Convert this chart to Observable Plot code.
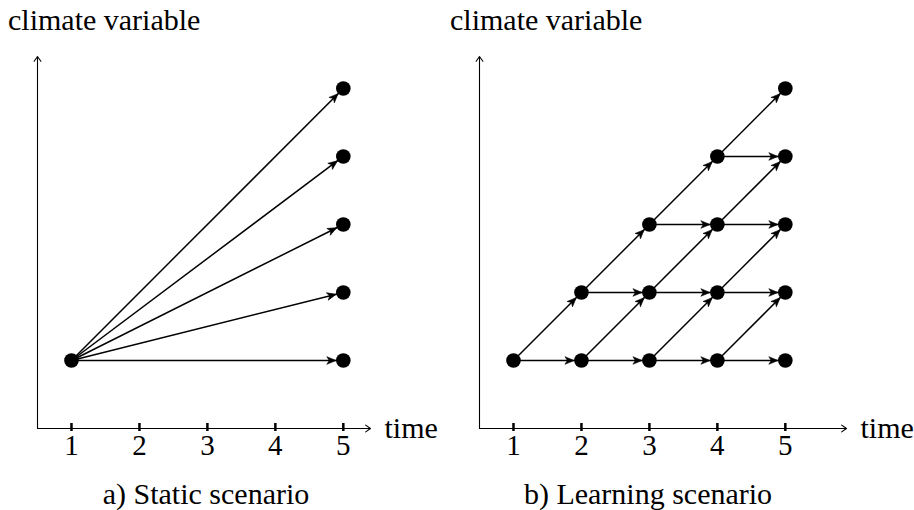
<!DOCTYPE html>
<html><head><meta charset="utf-8">
<script src="https://cdn.jsdelivr.net/npm/d3@7"></script>
<script src="https://cdn.jsdelivr.net/npm/@observablehq/plot@0.6"></script>
</head>
<body style="margin:0;padding:0;background:#fff">
<div id="wrap" style="position:relative;width:914px;height:510px;overflow:hidden;color:#000;background:#fff">
 <div id="ta" style="position:absolute;left:8px;top:5px;font-family:'Liberation Serif';font-size:30px;line-height:1;white-space:nowrap"></div>
 <div id="tb" style="position:absolute;left:450px;top:5px;font-family:'Liberation Serif';font-size:30px;line-height:1;white-space:nowrap"></div>
 <div id="pa" style="position:absolute;top:40px;left:0"></div>
 <div id="pb" style="position:absolute;top:40px;left:457px"></div>
 <div id="ca" style="position:absolute;left:56px;top:479px;width:300px;text-align:center;font-family:'Liberation Serif';font-size:30px;line-height:1;white-space:nowrap"></div>
 <div id="cb" style="position:absolute;left:498px;top:479px;width:300px;text-align:center;font-family:'Liberation Serif';font-size:30px;line-height:1;white-space:nowrap"></div>
</div>
<script>
// ---- data ----
const yTitle = "climate variable";
const xTitle = "time";
const captions = ["a) Static scenario", "b) Learning scenario"];
const timeTicks = [1, 2, 3, 4, 5];

const staticNodeTime  = [1, 5, 5, 5, 5, 5];
const staticNodeLevel = [1, 1, 2, 3, 4, 5];
const staticEdgeFromTime  = [1, 1, 1, 1, 1];
const staticEdgeFromLevel = [1, 1, 1, 1, 1];
const staticEdgeToTime    = [5, 5, 5, 5, 5];
const staticEdgeToLevel   = [1, 2, 3, 4, 5];

const learningNodeTime  = [1, 2, 2, 3, 3, 3, 4, 4, 4, 4, 5, 5, 5, 5, 5];
const learningNodeLevel = [1, 1, 2, 1, 2, 3, 1, 2, 3, 4, 1, 2, 3, 4, 5];
const learningEdgeFromTime  = [1, 1, 2, 2, 2, 2, 3, 3, 3, 3, 3, 3, 4, 4, 4, 4, 4, 4, 4, 4];
const learningEdgeFromLevel = [1, 1, 1, 1, 2, 2, 1, 1, 2, 2, 3, 3, 1, 1, 2, 2, 3, 3, 4, 4];
const learningEdgeToTime    = [2, 2, 3, 3, 3, 3, 4, 4, 4, 4, 4, 4, 5, 5, 5, 5, 5, 5, 5, 5];
const learningEdgeToLevel   = [1, 2, 1, 2, 2, 3, 1, 2, 2, 3, 3, 4, 1, 2, 2, 3, 3, 4, 4, 5];

const staticXDomain = [0.5, 5.4];
const learningXDomain = [0.5, 5.9];
const yDomain = [0, 5.47];

// ---- build ----
const FONT = "Liberation Serif";
const nodes = (a, b) => a.map((v, i) => ({t: v, k: b[i]}));
const edges = (ft, fk, tt, tk) => ft.map((v, i) => ({t1: v, k1: fk[i], t2: tt[i], k2: tk[i]}));

// filled "stealth" arrow head, tip set back so it touches the target dot
function stealth(color, context) {
  const doc = (context && context.document) || document;
  const ns = "http://www.w3.org/2000/svg";
  const m = doc.createElementNS(ns, "marker");
  m.setAttribute("viewBox", "-20 -6 20 12");
  m.setAttribute("markerWidth", 20);
  m.setAttribute("markerHeight", 12);
  m.setAttribute("markerUnits", "userSpaceOnUse");
  m.setAttribute("orient", "auto");
  m.setAttribute("refX", 0);
  m.setAttribute("refY", 0);
  const p = doc.createElementNS(ns, "path");
  p.setAttribute("d", "M-7.3,0L-16.5,-3.8L-14,0L-16.5,3.8Z");
  p.setAttribute("fill", color);
  p.setAttribute("stroke", color);
  p.setAttribute("stroke-width", 0.6);
  p.setAttribute("stroke-linejoin", "round");
  m.appendChild(p);
  return m;
}

function panel(nodeData, linkData, xDomain, marginLeft, marginRight, custom) {
  const axes = [
    {t1: xDomain[0], k1: yDomain[0], t2: xDomain[0], k2: yDomain[1]},
    {t1: xDomain[0], k1: yDomain[0], t2: xDomain[1], k2: yDomain[0]}
  ];
  const linkMark = custom
    ? Plot.link(linkData, {x1: "t1", y1: "k1", x2: "t2", y2: "k2", stroke: "black", strokeWidth: 1.5, markerEnd: stealth})
    : Plot.arrow(linkData, {x1: "t1", y1: "k1", x2: "t2", y2: "k2", stroke: "black", strokeWidth: 1.5, headLength: 9, headAngle: 40, insetEnd: 7.5});
  const svg = Plot.plot({
    width: 457, height: 430, marginTop: 16, marginBottom: 42, marginLeft, marginRight,
    x: {domain: xDomain, axis: null},
    y: {domain: yDomain, axis: null},
    style: {background: "transparent", overflow: "visible"},
    marks: [
      Plot.arrow(axes, {x1: "t1", y1: "k1", x2: "t2", y2: "k2", stroke: "black", strokeWidth: 1.1, headLength: 8, headAngle: 70}),
      Plot.axisX(timeTicks, {anchor: "bottom", tickSize: 8, dy: -5, fill: "none", label: null, stroke: "black", strokeWidth: 2.5}),
      Plot.axisX(timeTicks, {anchor: "bottom", tickSize: 0, tickPadding: 6, fontSize: 29, fontFamily: FONT, label: null, fill: "black"}),
      Plot.text([xTitle], {x: () => xDomain[1], y: () => yDomain[0], text: d => d, textAnchor: "start", dx: 14, fontSize: 30, fontFamily: FONT, lineAnchor: "middle", fill: "black"}),
      linkMark,
      Plot.dot(nodeData, {x: "t", y: "k", r: 7.3, fill: "black"})
    ]
  });
  svg.style.fontFamily = FONT;
  return svg;
}

function build(...args) {
  try { return panel(...args, true); } catch (e) { return panel(...args, false); }
}

document.getElementById("pa").appendChild(build(
  nodes(staticNodeTime, staticNodeLevel),
  edges(staticEdgeFromTime, staticEdgeFromLevel, staticEdgeToTime, staticEdgeToLevel),
  staticXDomain, 37, 87));
document.getElementById("pb").appendChild(build(
  nodes(learningNodeTime, learningNodeLevel),
  edges(learningEdgeFromTime, learningEdgeFromLevel, learningEdgeToTime, learningEdgeToLevel),
  learningXDomain, 22, 68));
for (const [id, txt] of [["ta", yTitle], ["tb", yTitle], ["ca", captions[0]], ["cb", captions[1]]]) {
  document.getElementById(id).textContent = txt;
}
</script>
</body></html>
